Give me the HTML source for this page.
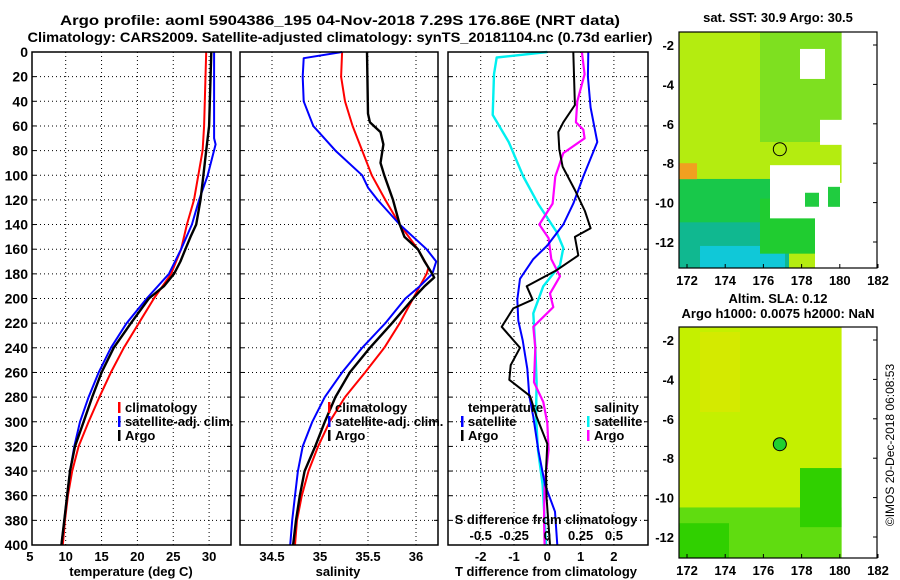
<!DOCTYPE html>
<html><head><meta charset="utf-8"><style>
html,body{margin:0;padding:0;background:#fff;}
svg{display:block;font-family:"Liberation Sans",Arial,sans-serif;font-weight:bold;}
</style></head><body>
<svg id="chart" width="900" height="580" viewBox="0 0 900 580" xmlns="http://www.w3.org/2000/svg">
<g id="titles">
<text x="340" y="25" font-size="14" text-anchor="middle" textLength="560" lengthAdjust="spacingAndGlyphs">Argo profile: aoml 5904386_195 04-Nov-2018 7.29S 176.86E (NRT data)</text>
<text x="340" y="42" font-size="14" text-anchor="middle" textLength="625" lengthAdjust="spacingAndGlyphs">Climatology: CARS2009. Satellite-adjusted climatology: synTS_20181104.nc (0.73d earlier)</text>
</g>
<g id="grid"></g>
<g id="marks"></g>
<g id="frames"></g>
<g id="labels"></g>
<g id="maps"></g>
</svg>
<script>
// ---- depth axis ----
const depthTicks = [0,20,40,60,80,100,120,140,160,180,200,220,240,260,280,300,320,340,360,380,400];
// ---- temperature panel ----
const tDepth = [0,60,80,100,120,140,150,160,170,180,190,200,220,240,260,280,300,320,340,360,380,400];
const tArgo  = [30.3,30.0,29.6,29.2,28.8,28.2,27.4,26.7,26.0,25.1,23.7,21.6,19.1,16.7,15.0,13.7,12.5,11.3,10.6,10.2,9.8,9.4];
const tClimDepth = [0,60,80,100,120,140,160,180,200,220,240,260,280,300,320,340,360,380,400];
const tClim  = [29.6,29.3,29.1,28.5,27.9,26.9,26.1,24.7,22.3,20.2,18.1,16.3,14.7,13.2,11.8,10.9,10.3,9.9,9.6];
const tSatDepth = [0,70,75,100,120,140,160,180,200,220,240,260,280,300,320,340,360,380,400];
const tSat   = [30.7,30.7,30.9,29.8,28.6,27.6,26.1,24.4,21.3,18.5,16.3,14.6,13.2,12.0,11.2,10.6,10.2,9.8,9.4];
const tTicks = [5,10,15,20,25,30];
// ---- salinity panel ----
const sArgoDepth = [0,50,57,65,75,90,100,120,140,150,160,170,180,183,190,200,220,240,260,280,300,320,340,360,380,400];
const sArgo = [35.49,35.50,35.52,35.63,35.66,35.63,35.67,35.76,35.83,35.88,36.02,36.09,36.17,36.19,36.09,35.97,35.75,35.52,35.31,35.16,35.05,34.95,34.84,34.79,34.75,34.72];
const sClimDepth = [0,20,40,60,80,100,120,140,160,175,180,190,200,220,240,260,280,300,320,340,360,380,400];
const sClim = [35.23,35.22,35.26,35.34,35.44,35.54,35.68,35.83,36.02,36.13,36.11,36.04,35.97,35.83,35.67,35.47,35.26,35.10,34.98,34.88,34.81,34.76,34.74];
const sSatDepth = [0,5,20,40,60,80,100,110,120,140,160,170,180,190,200,220,240,260,280,300,320,340,360,380,400];
const sSat = [35.23,34.83,34.82,34.83,34.93,35.16,35.44,35.50,35.60,35.83,36.11,36.21,36.17,36.04,35.89,35.68,35.44,35.23,35.05,34.92,34.82,34.77,34.74,34.71,34.69];
const sTicks = [34.5,35,35.5,36];
// ---- difference panel ----
const dTSatDepth = [0,20,45,73,101,123,140,157,168,184,201,218,234,257,279,296,323,351,373,400];
const dTSat = [1.23,1.22,1.3,1.5,1.08,0.78,0.48,0,-0.42,-0.82,-0.9,-0.87,-0.74,-0.6,-0.54,-0.42,-0.27,-0.07,0.23,0.3];
const dTArgoDepth = [0,43,57,65,79,93,112,129,143,150,165,177,190,201,208,223,240,254,266,279,296,318,340,362,400];
const dTArgo = [0.78,0.83,0.48,0.33,0.36,0.46,0.83,1.13,1.3,0.83,0.93,0.28,-0.62,-0.44,-1.02,-1.37,-0.82,-1.1,-1.14,-0.52,-0.32,0,-0.04,-0.02,0.08];
const dSSatDepth = [0,4.5,18,51,73,101,123,146,159,173,190,212,240,268,296,323,351,379,400];
const dSSat = [0,-0.38,-0.40,-0.41,-0.29,-0.18,-0.07,0.07,0.12,0.095,-0.03,-0.105,-0.09,-0.08,-0.085,-0.07,-0.035,-0.02,-0.01];
const dSArgoDepth = [0,18,40,57,63,70,82,101,123,140,151,168,182,196,207,223,240,268,284,301,323,351,379,400];
const dSArgo = [0.26,0.28,0.225,0.215,0.27,0.28,0.12,0.06,0.04,-0.06,0.01,0.03,0.095,0.02,0.045,-0.105,-0.09,-0.1,-0.03,0,0.01,-0.02,-0.025,-0.02];
const dTTicks = [-2,-1,0,1,2];
const dSTicks = [-0.5,-0.25,0,0.25,0.5];
const dSTickLabels = ['-0.5','-0.25','0','0.25','0.5'];
// ---- map axes ----
const lonTicks = [172,174,176,178,180,182];
const latTicks = [-2,-4,-6,-8,-10,-12];

const NS='http://www.w3.org/2000/svg';
function mk(parent,tag,attrs,text){const e=document.createElementNS(NS,tag);for(const k in attrs)e.setAttribute(k,attrs[k]);if(text!==undefined)e.textContent=text;parent.appendChild(e);return e;}
const Y0=52,Y1=545;
const yD=d=>Y0+(d/400)*(Y1-Y0);
const xT=t=>65.7+(t-10)*7.17;
const xS=s=>320+(s-35)*96;
const xDT=v=>547.3+v*33.3;
const xDS=v=>547.3+v*4*33.3;
const panels=[{x0:32,x1:231},{x0:240,x1:438},{x0:448,x1:648}];
const grid=document.getElementById('grid'),marks=document.getElementById('marks'),frames=document.getElementById('frames'),labels=document.getElementById('labels');

panels.forEach((p,i)=>{
  depthTicks.forEach(d=>{ if(d===0||d===400) return;
    const l=mk(grid,'line',{x1:p.x0,x2:p.x1,y1:yD(d),y2:yD(d),stroke:'#000','stroke-width':1,'stroke-dasharray':'1 3'});
    
    
  });
});
tTicks.slice(1).forEach(t=>{const l=mk(grid,'line',{x1:xT(t),x2:xT(t),y1:Y0,y2:Y1,stroke:'#000','stroke-dasharray':'1 3'});
  
  });
sTicks.forEach(s=>{const l=mk(grid,'line',{x1:xS(s),x2:xS(s),y1:Y0,y2:Y1,stroke:'#000','stroke-dasharray':'1 3'});
  
  });
dTTicks.forEach(t=>{const l=mk(grid,'line',{x1:xDT(t),x2:xDT(t),y1:Y0,y2:Y1,stroke:'#000','stroke-dasharray':'1 3'});
  
  });

function line(depths,vals,fx,color,name,w){
  const pts=depths.map((d,i)=>fx(vals[i]).toFixed(1)+','+yD(d).toFixed(1)).join(' ');
  const e=mk(marks,'polyline',{points:pts,fill:'none',stroke:color,'stroke-width':w||2,'stroke-linejoin':'round'});
  
  
}
line(tClimDepth,tClim,xT,'#ff0000','temperature-climatology-line');
line(tSatDepth,tSat,xT,'#0000ff','temperature-satellite-line');
line(tDepth,tArgo,xT,'#000000','temperature-argo-line',2.4);
line(sClimDepth,sClim,xS,'#ff0000','salinity-climatology-line');
line(sSatDepth,sSat,xS,'#0000ff','salinity-satellite-line');
line(sArgoDepth,sArgo,xS,'#000000','salinity-argo-line',2.4);
line(dSSatDepth,dSSat,xDS,'#00f0f0','salinity-satellite-diff-line',2.4);
line(dSArgoDepth,dSArgo,xDS,'#ff00ff','salinity-argo-diff-line',2.2);
line(dTSatDepth,dTSat,xDT,'#0000ff','temperature-satellite-diff-line');
line(dTArgoDepth,dTArgo,xDT,'#000000','temperature-argo-diff-line');

panels.forEach(p=>{const r=mk(frames,'rect',{x:p.x0,y:Y0,width:p.x1-p.x0,height:Y1-Y0,fill:'none',stroke:'#000','stroke-width':1.5});
  
  
  depthTicks.forEach(d=>{mk(frames,'line',{x1:p.x0,x2:p.x0+4,y1:yD(d),y2:yD(d),stroke:'#000'});mk(frames,'line',{x1:p.x1-4,x2:p.x1,y1:yD(d),y2:yD(d),stroke:'#000'});});
});
depthTicks.forEach(d=>{const t=mk(labels,'text',{x:28,y:yD(d)+5,'font-size':14,'text-anchor':'end'},String(d));
  
  });
tTicks.forEach(v=>{const t=mk(labels,'text',{x:xT(v),y:561,'font-size':13,'text-anchor':'middle'},String(v));
  
  });
sTicks.forEach(v=>{const t=mk(labels,'text',{x:xS(v),y:561,'font-size':13,'text-anchor':'middle'},String(v));
  
  });
dTTicks.forEach(v=>{const t=mk(labels,'text',{x:xDT(v),y:561,'font-size':13,'text-anchor':'middle'},String(v));
  
  });
dSTicks.forEach((v,i)=>{const t=mk(labels,'text',{x:xDS(v),y:540,'font-size':13,'text-anchor':'middle'},dSTickLabels[i]);
  
  });
[[131,'temperature (deg C)','x-axis-title-temperature'],[338,'salinity','x-axis-title-salinity'],[546,'T difference from climatology','x-axis-title-t-difference']].forEach(a=>{
  const t=mk(labels,'text',{x:a[0],y:576,'font-size':13,'text-anchor':'middle'},a[1]);
  
  });
{const t=mk(labels,'text',{x:546,y:524,'font-size':13,'text-anchor':'middle'},'S difference from climatology');
 
 }

function legend(x,y,color,label,name){
  const g=mk(labels,'g',{});
  
  
  mk(g,'rect',{x:x,y:y-10,width:2.5,height:11,fill:color});
  mk(g,'text',{x:x+7,y:y,'font-size':13},label);
}
legend(118,412,'#ff0000','climatology','legend-entry-climatology');
legend(118,426,'#0000ff','satellite-adj. clim.','legend-entry-satellite-adj');
legend(118,440,'#000000','Argo','legend-entry-argo');
legend(328,412,'#ff0000','climatology','legend-entry-climatology-salinity');
legend(328,426,'#0000ff','satellite-adj. clim.','legend-entry-satellite-adj-salinity');
legend(328,440,'#000000','Argo','legend-entry-argo-salinity');
{const t=mk(labels,'text',{x:468,y:412,'font-size':13},'temperature');}
{const t=mk(labels,'text',{x:594,y:412,'font-size':13},'salinity');}
legend(461,426,'#0000ff','satellite','legend-entry-t-satellite');
legend(461,440,'#000000','Argo','legend-entry-t-argo');
legend(587,426,'#00f0f0','satellite','legend-entry-s-satellite');
legend(587,440,'#ff00ff','Argo','legend-entry-s-argo');

const maps=document.getElementById('maps');
function mapPanel(top,bot,kind){
  const x0=679,x1=877;
  const lx=lon=>687+(lon-172)*19.1;
  const ly=lat=>top+13+(-2-lat)*19.7;
  const g=mk(maps,'g',{});
  
  
  const dx=lx(180.1);
  if(kind==='sst'){
    mk(g,'rect',{x:x0,y:top,width:dx-x0,height:bot-top,fill:'#b4ec10'});
    mk(g,'rect',{x:760,y:top,width:dx-760,height:110,fill:'#7ee020'});
    mk(g,'rect',{x:679,y:ly(-8.8),width:95,height:bot-ly(-8.8),fill:'#18c84a'});
    mk(g,'rect',{x:679,y:ly(-11),width:110,height:bot-ly(-11),fill:'#10b890'});
    mk(g,'rect',{x:700,y:ly(-12.2),width:85,height:bot-ly(-12.2),fill:'#10c8d8'});
    mk(g,'rect',{x:679,y:ly(-8),width:18,height:16,fill:'#f0a020'});
    mk(g,'rect',{x:760,y:ly(-9.8),width:80,height:55,fill:'#20cc30'});
    mk(g,'rect',{x:770,y:ly(-8.1),width:70,height:ly(-10.8)-ly(-8.1),fill:'#ffffff'});
    mk(g,'rect',{x:800,y:ly(-2.2),width:25,height:30,fill:'#ffffff'});
    mk(g,'rect',{x:820,y:ly(-5.8),width:25,height:25,fill:'#ffffff'});
    mk(g,'rect',{x:815,y:ly(-9),width:30,height:ly(-13.3)-ly(-9),fill:'#ffffff'});
    mk(g,'rect',{x:828,y:ly(-9.2),width:12,height:20,fill:'#20cc40'});
    mk(g,'rect',{x:805,y:ly(-9.5),width:14,height:14,fill:'#20cc40'});
  } else {
    mk(g,'rect',{x:x0,y:top,width:dx-x0,height:bot-top,fill:'#c4f000'});
    mk(g,'rect',{x:700,y:top+5,width:40,height:80,fill:'#d4ea00'});
    mk(g,'rect',{x:x0,y:ly(-10.5),width:dx-x0,height:bot-ly(-10.5),fill:'#60dc10'});
    mk(g,'rect',{x:x0,y:ly(-11.3),width:50,height:bot-ly(-11.3),fill:'#30d000'});
    mk(g,'rect',{x:800,y:ly(-8.5),width:dx-800,height:ly(-11.5)-ly(-8.5),fill:'#30d000'});
  }
  mk(g,'rect',{x:dx,y:top,width:x1-dx,height:bot-top,fill:'#fff'});
  const c=mk(g,'circle',{cx:lx(176.86),cy:ly(-7.29),r:6.5,fill:kind==='sst'?'none':'#20d030',stroke:'#000','stroke-width':1});
  
  
  const f=mk(g,'rect',{x:x0,y:top,width:x1-x0,height:bot-top,fill:'none',stroke:'#000','stroke-width':1.2});
  
  
  lonTicks.forEach(l=>{
    mk(g,'line',{x1:lx(l),x2:lx(l),y1:bot,y2:bot-4,stroke:'#000'});
    const t=mk(g,'text',{x:lx(l),y:bot+17,'font-size':13,'text-anchor':'middle'},String(l));
    
    
  });
  latTicks.forEach(l=>{
    mk(g,'line',{x1:x1,x2:x1-4,y1:ly(l),y2:ly(l),stroke:'#000'});
    const t=mk(g,'text',{x:674,y:ly(l)+5,'font-size':13,'text-anchor':'end'},String(l));
    
    
  });
}
mapPanel(32,268,'sst');
mapPanel(327,558,'sla');
{const t=mk(maps,'text',{x:778,y:22,'font-size':13,'text-anchor':'middle'},'sat. SST: 30.9 Argo: 30.5');}
{const t=mk(maps,'text',{x:778,y:303,'font-size':13,'text-anchor':'middle'},'Altim. SLA: 0.12');}
{const t=mk(maps,'text',{x:778,y:318,'font-size':13,'text-anchor':'middle'},'Argo h1000: 0.0075 h2000: NaN');}
{const t=mk(maps,'text',{x:0,y:0,'font-size':12,'font-weight':'normal','text-anchor':'middle',transform:'translate(894,445) rotate(-90)'},'©IMOS 20-Dec-2018 06:08:53');}
</script>
</body></html>
